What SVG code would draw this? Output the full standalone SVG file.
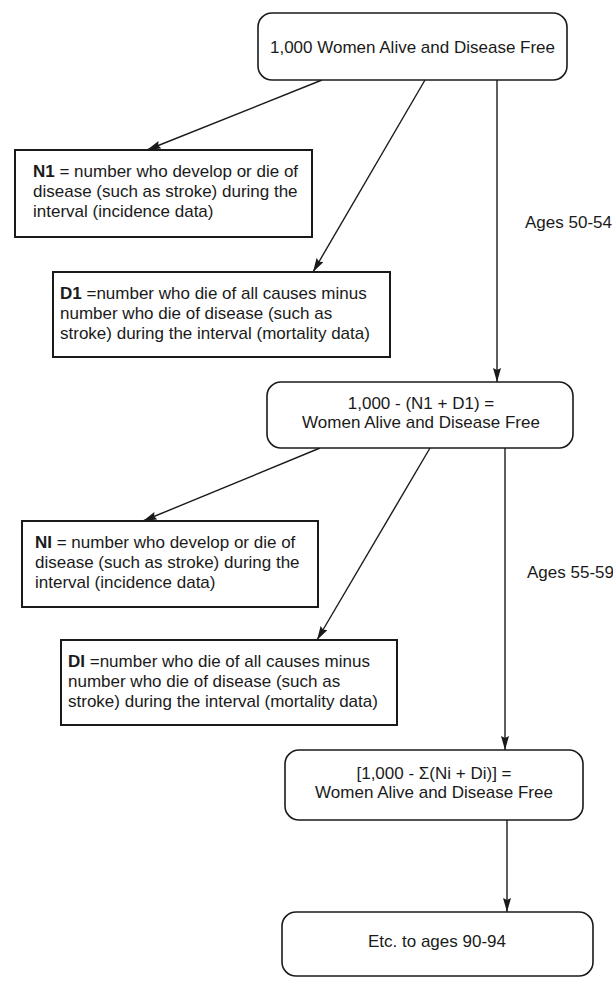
<svg xmlns="http://www.w3.org/2000/svg" width="613" height="992" viewBox="0 0 613 992">
<style>
  .rbox { fill: #ffffff; stroke: #1a1a1a; stroke-width: 1.6; }
  .box { fill: #ffffff; stroke: #1a1a1a; stroke-width: 2; }
  .t { font-family: "Liberation Sans", Arial, Helvetica, sans-serif; font-size: 17px; fill: #1a1a1a; }
  .c { text-anchor: middle; }
  .b { font-weight: bold; }
  .conn { stroke: #1a1a1a; stroke-width: 1.4; fill: none; marker-end: url(#arr); }
</style>
<defs>
  <marker id="arr" markerUnits="userSpaceOnUse" markerWidth="15" markerHeight="8" refX="14" refY="4" orient="auto">
    <path d="M0,0 L14,4 L0,8 L2,4 z" fill="#1a1a1a"/>
  </marker>
</defs>
<rect width="613" height="992" fill="#ffffff"/>

<g id="connectors">
  <line class="conn" x1="322" y1="80" x2="147" y2="150"/>
  <line class="conn" x1="425" y1="80" x2="313" y2="272"/>
  <line class="conn" x1="497" y1="80" x2="497" y2="382"/>
  <line class="conn" x1="320" y1="448" x2="143" y2="521"/>
  <line class="conn" x1="430" y1="448" x2="317" y2="640"/>
  <line class="conn" x1="505" y1="448" x2="505" y2="750"/>
  <line class="conn" x1="507" y1="820" x2="507" y2="912"/>
  <text class="t" x="525" y="228">Ages 50-54</text>
  <text class="t" x="527" y="578">Ages 55-59</text>
</g>

<g id="start">
  <rect class="rbox" x="258" y="13" width="309" height="67" rx="14"/>
  <text class="t c" x="412.5" y="53">1,000 Women Alive and Disease Free</text>
</g>

<g id="n1">
  <rect class="box" x="15" y="150" width="297" height="87"/>
  <text class="t" x="33" y="177"><tspan class="b">N1</tspan> = number who develop or die of</text>
  <text class="t" x="33" y="197">disease (such as stroke) during the</text>
  <text class="t" x="33" y="217">interval (incidence data)</text>
</g>

<g id="d1">
  <rect class="box" x="53" y="272" width="337" height="85"/>
  <text class="t" x="60" y="299"><tspan class="b">D1</tspan> =number who die of all causes minus</text>
  <text class="t" x="60" y="319">number who die of disease (such as</text>
  <text class="t" x="60" y="339">stroke) during the interval (mortality data)</text>
</g>

<g id="state2">
  <rect class="rbox" x="267" y="382" width="306" height="66" rx="14"/>
  <text class="t c" x="421" y="409">1,000 - (N1 + D1) =</text>
  <text class="t c" x="421" y="428">Women Alive and Disease Free</text>
</g>

<g id="ni">
  <rect class="box" x="22" y="521" width="296" height="86"/>
  <text class="t" x="35" y="548"><tspan class="b">NI</tspan> = number who develop or die of</text>
  <text class="t" x="35" y="568">disease (such as stroke) during the</text>
  <text class="t" x="35" y="588">interval (incidence data)</text>
</g>

<g id="di">
  <rect class="box" x="61" y="640" width="336" height="85"/>
  <text class="t" x="68" y="667"><tspan class="b">DI</tspan> =number who die of all causes minus</text>
  <text class="t" x="68" y="687">number who die of disease (such as</text>
  <text class="t" x="68" y="707">stroke) during the interval (mortality data)</text>
</g>

<g id="state3">
  <rect class="rbox" x="285" y="750" width="298" height="70" rx="14"/>
  <text class="t c" x="434" y="779">[1,000 - Σ(Ni + Di)] =</text>
  <text class="t c" x="434" y="798">Women Alive and Disease Free</text>
</g>

<g id="end">
  <rect class="rbox" x="282" y="912" width="311" height="64" rx="14"/>
  <text class="t c" x="437" y="947">Etc. to ages 90-94</text>
</g>
</svg>
